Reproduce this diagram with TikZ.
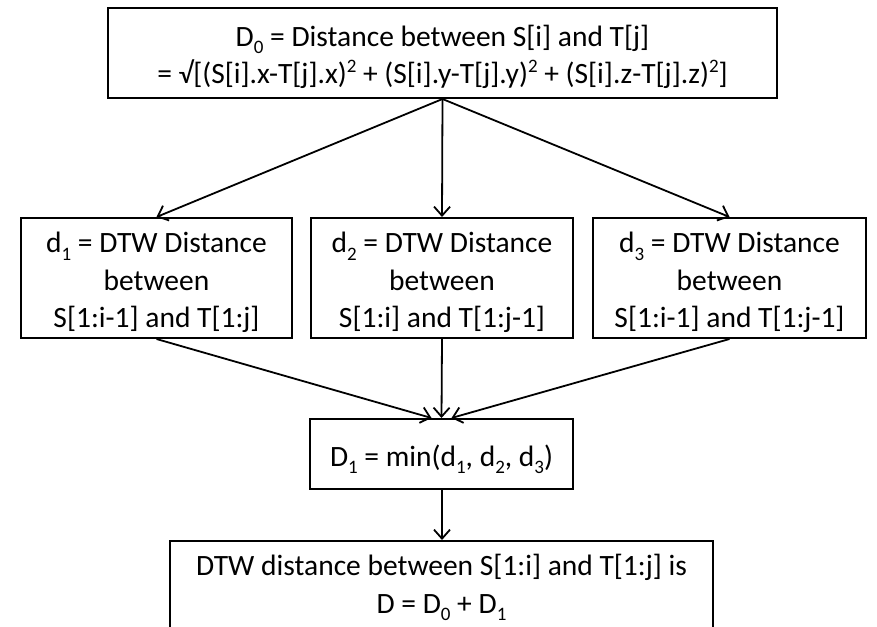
\documentclass[tikz,border=0pt]{standalone}
\usepackage{fontspec}
\setmainfont{Carlito}
\usetikzlibrary{arrows.meta}
\newcommand\dn[1]{\raisebox{-0.25em}{\fontsize{19}{19}\selectfont #1}}
\newcommand\up[1]{\raisebox{0.38em}{\fontsize{19}{19}\selectfont #1}}
\newcommand\tops[1]{\rule{0pt}{#1pt}}
\begin{document}
\begin{tikzpicture}[x=1pt,y=-1pt,
  box/.style={draw,line width=2pt,align=center,inner sep=0pt,font=\fontsize{29.5}{37.5}\selectfont},
  arr/.style={line width=1.8pt,-{Straight Barb[length=9pt,width=16pt,line width=1.8pt]}}]
\useasboundingbox (0,0) rectangle (877,626);
\begin{scope}
\clip (0,0) rectangle (877,626);
\node[box,minimum width=669pt,minimum height=90pt] (top) at (442.5,53)
  {\tops{29}D\dn{0} = Distance between S[i] and T[j]\\
   = √[(S[i].x-T[j].x)\up{2} + (S[i].y-T[j].y)\up{2} + (S[i].z-T[j].z)\up{2}]};
\node[box,minimum width=271pt,minimum height=120pt] (m1) at (156.5,278)
  {\tops{30}d\dn{1} = DTW Distance\\ between\\ S[1:i-1] and T[1:j]};
\node[box,minimum width=262pt,minimum height=120pt] (m2) at (442,278)
  {\tops{30}d\dn{2} = DTW Distance\\ between\\ S[1:i] and T[1:j-1]};
\node[box,minimum width=273pt,minimum height=120pt] (m3) at (729.5,278)
  {\tops{30}d\dn{3} = DTW Distance\\ between\\ S[1:i-1] and T[1:j-1]};
\node[box,minimum width=263pt,minimum height=70pt] (d1) at (441.5,454)
  {\tops{32}D\dn{1} = min(d\dn{1}, d\dn{2}, d\dn{3})};
\node[box,minimum width=543pt,minimum height=90pt] (res) at (441.5,586)
  {\tops{24}DTW distance between S[1:i] and T[1:j] is\\ D = D\dn{0} + D\dn{1}};
\draw[arr] (top.south) -- (m1.north);
\draw[arr] (top.south) -- (m2.north);
\draw[arr] (top.south) -- (m3.north);
\draw[arr] (m1.south) -- ([xshift=-10pt]d1.north);
\draw[arr] (m2.south) -- (d1.north);
\draw[arr] (m3.south) -- ([xshift=10pt]d1.north);
\draw[arr] ([xshift=0.5pt]d1.south) -- ([xshift=0.5pt]res.north);
\end{scope}
\end{tikzpicture}
\end{document}
